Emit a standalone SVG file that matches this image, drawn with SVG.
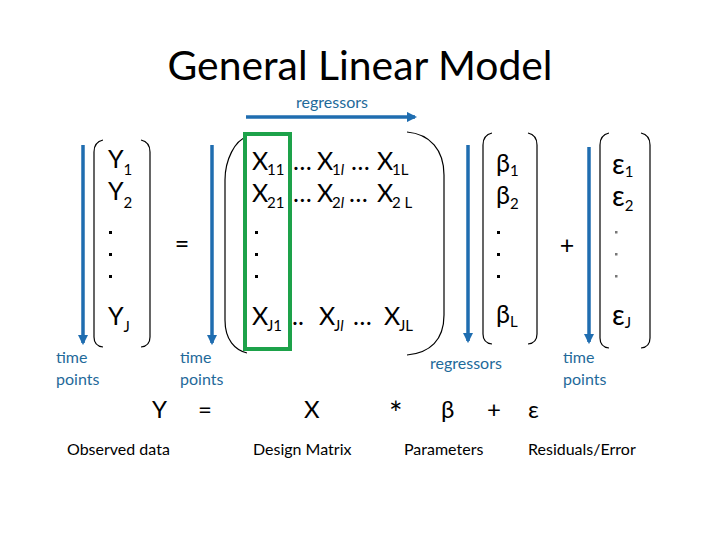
<svg xmlns="http://www.w3.org/2000/svg" width="720" height="540" viewBox="0 0 720 540">
<defs>
<marker id="ah" viewBox="0 0 10 10" refX="8" refY="5" markerWidth="3" markerHeight="3" orient="auto" markerUnits="strokeWidth">
<path d="M0,0 L10,5 L0,10 Z" fill="#1F6DB0"/>
</marker>
<style>
text{font-family:Lato,"Liberation Sans",sans-serif;fill:#000}
.m{font-size:25px}
.e{font-size:28px}
.s{font-size:15px}
.lbl{font-size:16px;fill:#1F6A9A}
.cap{font-size:16px}
.f{font-size:24px}
.br{fill:none;stroke:#000;stroke-width:1.2}
.ar{fill:none;stroke:#1F6DB0;stroke-width:3.5;marker-end:url(#ah)}
.d{fill:#000}
.dg{fill:#777}
</style>
</defs>
<rect width="720" height="540" fill="#fff"/>
<text x="360" y="80" text-anchor="middle" font-size="41" textLength="385" lengthAdjust="spacingAndGlyphs">General Linear Model</text>

<g id="connectors">
<path class="ar" d="M246,117 L415,117"/>
<path class="ar" d="M83,145 L83,343"/>
<path class="ar" d="M212,145 L212,343"/>
<path class="ar" d="M468,145 L468,341"/>
<path class="ar" d="M589,147 L589,342"/>
</g>

<text class="lbl" x="332" y="108" text-anchor="middle">regressors</text>

<g id="Y">
<path class="br" d="M103,140 Q94,142 94,152 L94,337 Q94,346 103,347"/>
<path class="br" d="M141,140 Q150,142 150,152 L150,337 Q150,346 141,347"/>
<text class="m" x="108" y="168">Y<tspan class="s" dy="7">1</tspan></text>
<text class="m" x="108" y="200">Y<tspan class="s" dy="8">2</tspan></text>
<rect class="d" x="109" y="231" width="3" height="3"/>
<rect class="d" x="109" y="253" width="3" height="3"/>
<rect class="d" x="109" y="275" width="3" height="3"/>
<text class="m" x="108" y="325">Y<tspan class="s" dy="7">J</tspan></text>
</g>

<text class="m" x="182" y="253" text-anchor="middle">=</text>

<g id="X">
<path class="br" d="M247,137 C235,140 225,160 225,180 L225,320 C225,340 235,350 247,353"/>
<path class="br" d="M407,132 C430,134 444,150 444,175 L444,315 C444,340 430,353 407,355"/>
<rect x="245" y="134" width="45" height="215" fill="none" stroke="#1DA24A" stroke-width="4"/>
<text class="m" y="170"><tspan x="252">X</tspan><tspan class="s" x="267" dy="5">11</tspan><tspan x="293" dy="-5">…</tspan><tspan x="317">X</tspan><tspan class="s" x="332" dy="5">1</tspan><tspan class="s" font-style="italic">l</tspan><tspan x="351" dy="-5">…</tspan><tspan x="377">X</tspan><tspan class="s" x="392" dy="5">1L</tspan></text>
<text class="m" y="202"><tspan x="252">X</tspan><tspan class="s" x="267" dy="6">21</tspan><tspan x="293" dy="-6">…</tspan><tspan x="317">X</tspan><tspan class="s" x="332" dy="6">2</tspan><tspan class="s" font-style="italic">l</tspan><tspan x="349" dy="-6">…</tspan><tspan x="377">X</tspan><tspan class="s" x="392" dy="6">2 L</tspan></text>
<rect class="d" x="255" y="231" width="3" height="3"/>
<rect class="d" x="255" y="253" width="3" height="3"/>
<rect class="d" x="255" y="275" width="3" height="3"/>
<text class="m" y="325"><tspan x="252">X</tspan><tspan class="s" x="267" dy="6">J1</tspan><tspan x="292" dy="-6">..</tspan><tspan x="319">X</tspan><tspan class="s" x="334" dy="6">J</tspan><tspan class="s" font-style="italic">l</tspan><tspan x="353" dy="-6">…</tspan><tspan x="384">X</tspan><tspan class="s" x="399" dy="6">JL</tspan></text>
</g>

<g id="beta">
<path class="br" d="M492,133 Q483,135 483,145 L483,334 Q483,343 492,344"/>
<path class="br" d="M528,133 Q537,135 537,145 L537,334 Q537,343 528,344"/>
<text class="m" x="496" y="172">β<tspan class="s" dy="4">1</tspan></text>
<text class="m" x="496" y="204">β<tspan class="s" dy="5">2</tspan></text>
<rect class="d" x="497" y="231" width="3" height="3"/>
<rect class="d" x="497" y="253" width="3" height="3"/>
<rect class="d" x="497" y="275" width="3" height="3"/>
<text class="m" x="496" y="323">β<tspan class="s" dy="4">L</tspan></text>
</g>

<text class="m" x="567" y="254" text-anchor="middle">+</text>

<g id="epsilon">
<path class="br" d="M609,133 Q600,135 600,145 L600,338 Q600,347 609,348"/>
<path class="br" d="M641,133 Q650,135 650,145 L650,338 Q650,347 641,348"/>
<text class="e" x="612" y="174">ε<tspan class="s" dy="3">1</tspan></text>
<text class="e" x="612" y="206">ε<tspan class="s" dy="5">2</tspan></text>
<rect class="dg" x="615" y="231" width="2.5" height="2.5"/>
<rect class="dg" x="615" y="253" width="2.5" height="2.5"/>
<rect class="dg" x="615" y="275" width="2.5" height="2.5"/>
<text class="e" x="612" y="325">ε<tspan class="s" dy="3">J</tspan></text>
</g>

<text class="lbl"><tspan x="56" y="363">time</tspan><tspan x="56" y="385">points</tspan></text>
<text class="lbl"><tspan x="180" y="363">time</tspan><tspan x="180" y="385">points</tspan></text>
<text class="lbl" x="430" y="369">regressors</text>
<text class="lbl"><tspan x="563" y="363">time</tspan><tspan x="563" y="385">points</tspan></text>

<g id="formula">
<text class="f" x="152" y="418">Y</text>
<text class="f" x="198" y="418">=</text>
<text class="f" x="304" y="418">X</text>
<text x="389" y="425" font-size="32">*</text>
<text class="f" x="441" y="418">β</text>
<text class="f" x="487" y="418">+</text>
<text class="f" x="528" y="418">ε</text>
</g>

<text class="cap" x="67" y="455">Observed data</text>
<text class="cap" x="253" y="455">Design Matrix</text>
<text class="cap" x="404" y="455">Parameters</text>
<text class="cap" x="528" y="455">Residuals/Error</text>
</svg>
